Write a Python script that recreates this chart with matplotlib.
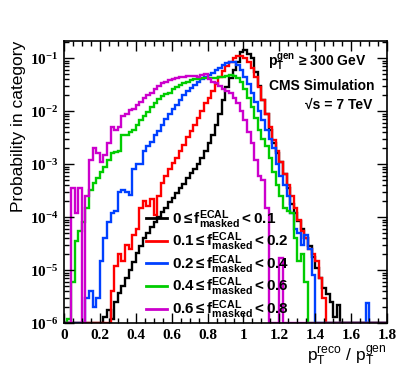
import numpy as np
import matplotlib
matplotlib.use("Agg")
import matplotlib.pyplot as plt
from matplotlib.lines import Line2D
from matplotlib.ticker import FixedLocator, MultipleLocator, LogLocator, FuncFormatter

plt.rcParams['mathtext.fontset'] = 'custom'
plt.rcParams['mathtext.rm'] = 'Liberation Sans'
plt.rcParams['mathtext.sf'] = 'Liberation Sans:bold'
plt.rcParams['mathtext.bf'] = 'Liberation Serif:bold'
plt.rcParams['mathtext.it'] = 'Liberation Sans:italic'

# histogram binning: 90 bins of width 0.02 from 0 to 1.8
bin_edges = np.round(np.arange(0, 1.8001, 0.02), 2)

# probability per bin (0 = empty bin)
frac_0_01 = [
    0, 0, 0, 0, 0, 0, 0, 0, 0, 0,
    0, 1.3e-6, 1.8e-6, 1.2e-6, 2.5e-6, 3.7e-6, 5e-6, 7e-6, 1e-5, 1.4e-5,
    2.1e-5, 2.8e-5, 4e-5, 5e-5, 6.5e-5, 8e-5, 1e-4, 1.25e-4, 1.5e-4, 1.9e-4,
    2.3e-4, 2.8e-4, 3.5e-4, 4.2e-4, 5.5e-4, 6.8e-4, 8e-4, 1e-3, 1.3e-3, 1.8e-3,
    2.5e-3, 3.5e-3, 5.5e-3, 9e-3, 0.016, 0.028, 0.042, 0.06, 0.085, 0.13,
    0.14, 0.12, 0.1, 0.055, 0.03, 0.016, 0.009, 0.0045, 0.0025, 0.0016,
    1.1e-3, 6.5e-4, 3.5e-4, 1.8e-4, 1.2e-4, 8.5e-5, 6e-5, 4e-5, 2.8e-5, 1.8e-5,
    1.1e-5, 7e-6, 4.5e-6, 3.5e-6, 2.5e-6, 1.3e-6, 2.2e-6, 0, 0, 0,
    0, 0, 0, 0, 0, 0, 0, 0, 0, 0,
]
frac_01_02 = [
    0, 0, 0, 0, 0, 0, 0, 0, 0, 0,
    0, 0, 0, 4e-6, 1.2e-5, 2e-5, 1.5e-5, 3e-5, 2.5e-5, 4.5e-5,
    6e-5, 1.5e-4, 2e-4, 1.6e-4, 2.2e-4, 1.1e-4, 2.5e-4, 4.5e-4, 6e-4, 8e-4,
    1.05e-3, 1.3e-3, 1.8e-3, 2.3e-3, 3.2e-3, 4.2e-3, 5.5e-3, 7.5e-3, 0.01, 0.014,
    0.018, 0.024, 0.033, 0.045, 0.058, 0.072, 0.085, 0.1, 0.11, 0.11,
    0.1, 0.085, 0.065, 0.045, 0.028, 0.016, 0.009, 0.005, 0.0028, 0.0018,
    1.1e-3, 6.5e-4, 4e-4, 2.5e-4, 1.5e-4, 9e-5, 5.5e-5, 4e-5, 2.5e-5, 2e-5,
    1.5e-5, 7e-6, 3e-6, 0, 0, 0, 0, 0, 0, 0,
    0, 0, 0, 0, 0, 0, 0, 0, 0, 0,
]
frac_02_04 = [
    0, 0, 0, 0, 0, 0, 3e-6, 4e-6, 2e-6, 3e-6,
    1.5e-5, 4e-5, 8e-5, 1.2e-4, 1.3e-4, 3e-4, 3.2e-4, 3e-4, 2.6e-4, 8e-4,
    1e-3, 1e-3, 1.8e-3, 2.2e-3, 2.6e-3, 3.6e-3, 4.2e-3, 5.5e-3, 7e-3, 9e-3,
    0.011, 0.013, 0.016, 0.02, 0.024, 0.027, 0.031, 0.036, 0.04, 0.045,
    0.048, 0.053, 0.06, 0.066, 0.073, 0.08, 0.085, 0.083, 0.075, 0.06,
    0.045, 0.032, 0.022, 0.015, 0.01, 0.0068, 0.0045, 0.003, 0.002, 1e-3,
    6e-4, 4e-4, 2.5e-4, 1.2e-4, 6e-5, 5e-5, 3e-5, 4.5e-5, 2.5e-5, 8e-6,
    0, 0, 0, 0, 0, 0, 0, 0, 0, 0,
    0, 0, 0, 0, 2.4e-6, 0, 0, 0, 0, 0,
]
frac_04_06 = [
    0, 1.2e-6, 6e-6, 3.5e-5, 5.5e-5, 8e-5, 1.5e-4, 3.2e-4, 4.5e-4, 5.5e-4,
    7e-4, 9e-4, 1.2e-3, 1.6e-3, 1.7e-3, 1.8e-3, 3.5e-3, 3.5e-3, 4e-3, 4.4e-3,
    5.5e-3, 6.8e-3, 8e-3, 9.5e-3, 0.012, 0.014, 0.017, 0.019, 0.021, 0.022,
    0.026, 0.028, 0.031, 0.034, 0.036, 0.038, 0.04, 0.041, 0.042, 0.043,
    0.042, 0.043, 0.043, 0.044, 0.045, 0.047, 0.048, 0.047, 0.042, 0.035,
    0.026, 0.018, 0.012, 0.0075, 0.0045, 0.003, 0.0022, 0.0013, 7e-4, 4e-4,
    2.5e-4, 1.5e-4, 1.3e-4, 1.2e-4, 4e-5, 1.5e-5, 2e-5, 6e-6, 0, 0,
    0, 0, 0, 0, 0, 0, 0, 0, 0, 0,
    0, 0, 0, 0, 0, 0, 0, 0, 0, 0,
]
frac_06_08 = [
    0, 0, 3.5e-4, 1.2e-4, 3.5e-4, 0, 2.5e-4, 1.2e-3, 2e-3, 1.6e-3,
    1.1e-3, 1.5e-3, 2.5e-3, 5e-3, 4.5e-3, 5e-3, 8e-3, 9e-3, 0.0105, 0.011,
    0.013, 0.015, 0.018, 0.02, 0.022, 0.026, 0.03, 0.034, 0.036, 0.038,
    0.04, 0.042, 0.044, 0.045, 0.046, 0.046, 0.047, 0.045, 0.048, 0.05,
    0.04, 0.036, 0.034, 0.03, 0.026, 0.024, 0.022, 0.018, 0.014, 0.01,
    0.0068, 0.004, 0.0025, 0.0012, 6e-4, 5e-4, 1.5e-4, 0, 0, 0,
    1.7e-5, 0, 0, 0, 0, 0, 0, 0, 0, 0,
    0, 0, 0, 0, 0, 0, 0, 0, 0, 0,
    0, 0, 0, 0, 0, 0, 0, 0, 0, 0,
]

series = [frac_0_01, frac_01_02, frac_02_04, frac_04_06, frac_06_08]
labels = [
    r'$\mathsf{0 \leq f^{ECAL}_{masked} < 0.1}$',
    r'$\mathsf{0.1 \leq f^{ECAL}_{masked} < 0.2}$',
    r'$\mathsf{0.2 \leq f^{ECAL}_{masked} < 0.4}$',
    r'$\mathsf{0.4 \leq f^{ECAL}_{masked} < 0.6}$',
    r'$\mathsf{0.6 \leq f^{ECAL}_{masked} < 0.8}$',
]
colors = ['black', '#ff0000', '#0040ff', '#00cc00', '#cc00cc']

y_min, y_max = 1e-6, 0.21

fig = plt.figure(figsize=(4.07, 3.77), dpi=100)
ax = fig.add_axes([0.157, 0.143, 0.794, 0.748])

handles = []
for vals, col, lab in zip(series, colors, labels):
    # empty bins sit on the bottom of the frame, like in ROOT
    v = np.where(np.array(vals) > 0, vals, y_min)
    ax.stairs(v, bin_edges, color=col, lw=1.7, baseline=None)
    handles.append(Line2D([], [], color=col, lw=2))

ax.set_yscale('log')
ax.set_xlim(0, 1.8)
ax.set_ylim(y_min, y_max)

# ticks inside on all four sides
ax.xaxis.set_major_locator(MultipleLocator(0.2))
ax.xaxis.set_minor_locator(MultipleLocator(0.05))
ax.yaxis.set_major_locator(FixedLocator([1e-6, 1e-5, 1e-4, 1e-3, 1e-2, 1e-1]))
ax.yaxis.set_minor_locator(LogLocator(base=10, subs=np.arange(2, 10)))
ax.tick_params(which='both', direction='in', top=True, right=True, width=1)
ax.tick_params(which='major', length=7, pad=4)
ax.tick_params(which='minor', length=3.5)
ax.yaxis.set_minor_formatter(FuncFormatter(lambda v, p: ''))
ax.xaxis.set_major_formatter(FuncFormatter(lambda v, p: '%g' % round(v, 1)))
ax.yaxis.set_major_formatter(
    FuncFormatter(lambda v, p: r'$\mathbf{10^{%d}}$' % int(round(np.log10(v)))))
for t in ax.get_xticklabels():
    t.set_fontfamily('Liberation Serif')
    t.set_fontweight('bold')
ax.tick_params(axis='both', labelsize=11)
for s in ax.spines.values():
    s.set_linewidth(1.2)

# axis titles
fig.text(0.045, 0.891, 'Probability in category', rotation=90, ha='center',
         va='top', fontsize=12.5, family='Liberation Sans')
ax.text(1.0, -0.115,
        r'$\mathrm{p_{T}^{reco}}$ / $\mathrm{p_{T}^{gen}}$',
        transform=ax.transAxes, ha='right', va='center', fontsize=12.5,
        family='Liberation Sans')

# annotations
ax.text(0.935, 0.925, r'$\mathsf{p_{T}^{gen}}$ ≥ 300 GeV', transform=ax.transAxes,
        ha='right', va='center', fontsize=10, fontweight='bold',
        family=['Liberation Sans', 'DejaVu Sans'])
ax.text(0.96, 0.84, 'CMS Simulation', transform=ax.transAxes, ha='right',
        va='center', fontsize=10, fontweight='bold', family='Liberation Sans')
ax.text(0.954, 0.775, '√s = 7 TeV', transform=ax.transAxes, ha='right',
        va='center', fontsize=10, fontweight='bold',
        family=['Liberation Sans', 'DejaVu Sans'])

ax.legend(handles, labels, loc='lower left', bbox_to_anchor=(0.225, -0.025),
          frameon=False, fontsize=11, handlelength=1.4, handletextpad=0.3,
          labelspacing=0.0, borderaxespad=0.2)

fig.savefig('out.png', dpi=100)
